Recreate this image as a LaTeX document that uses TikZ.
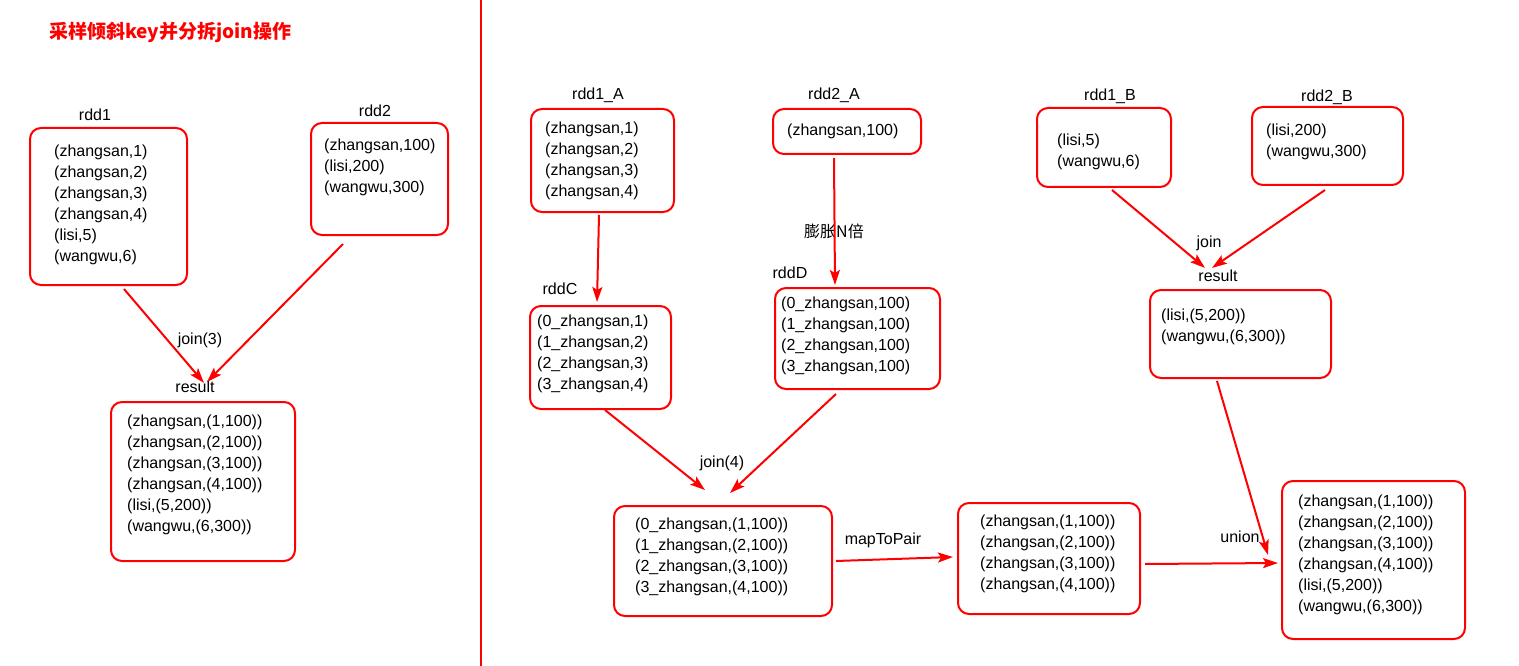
\documentclass[tikz,border=0pt]{standalone}
\usepackage{fontspec}
\setmainfont{Liberation Sans}
\newfontfamily\cjk{Noto Sans CJK SC}
\usetikzlibrary{arrows.meta}

\tikzset{
  rddbox/.style={draw=red, line width=2pt, rounded corners=11pt, inner sep=0pt},
  rddtext/.style={anchor=north west, align=left, inner sep=0pt, font=\fontsize{16}{21}\selectfont},
  rddname/.style={inner sep=1pt, font=\fontsize{16}{19}\selectfont},
  cjkname/.style={inner sep=1pt, font=\cjk\fontsize{16}{19}\selectfont},
  flow/.style={->, draw=red, line width=2pt},
}

\begin{document}
\begin{tikzpicture}[x=1pt, y=-1pt, line join=round, >={Stealth[length=15pt,width=10pt,inset=3pt]}]
\useasboundingbox (0,0) rectangle (1519,666);
% title and divider
\node[anchor=west, inner sep=0pt, text=red, font=\cjk\bfseries\fontsize{19}{22}\selectfont] (title) at (49,32) {采样倾斜key并分拆join操作};
\draw[red, line width=1.2pt] (481,0) -- (481,666);

% left: plain join
\node[rddname] (rdd1l) at (95,115) {rdd1};
\node[rddbox, minimum width=157pt, minimum height=157pt] (rdd1) at (108.5,206.5) {};
\node[rddtext] (rdd1t) at (54,145) {(zhangsan,1)\\(zhangsan,2)\\(zhangsan,3)\\(zhangsan,4)\\(lisi,5)\\(wangwu,6)};
\node[rddname] (rdd2l) at (375,111) {rdd2};
\node[rddbox, minimum width=137pt, minimum height=112pt] (rdd2) at (379.5,179) {};
\node[rddtext] (rdd2t) at (324,139) {(zhangsan,100)\\(lisi,200)\\(wangwu,300)};
\node[rddname] (join3) at (200,340) {join(3)};
\node[rddname] (resl) at (195,387) {result};
\node[rddbox, minimum width=184pt, minimum height=159pt] (res) at (203,481.5) {};
\node[rddtext] (rest) at (127,415) {(zhangsan,(1,100))\\(zhangsan,(2,100))\\(zhangsan,(3,100))\\(zhangsan,(4,100))\\(lisi,(5,200))\\(wangwu,(6,300))};
\draw[flow] ([shift={(15.5,3)}]rdd1.south) -- ([shift={(9,3)}]resl.north);
\draw[flow] ([shift={(-36.5,8)}]rdd2.south) -- ([shift={(12,2)}]resl.north);

% right: skewed key split
\node[rddname] (rdd1Al) at (598,95) {rdd1\_A};
\node[rddbox, minimum width=143pt, minimum height=103pt] (rdd1A) at (602.5,160.5) {};
\node[rddtext] (rdd1At) at (545,122) {(zhangsan,1)\\(zhangsan,2)\\(zhangsan,3)\\(zhangsan,4)};
\node[rddname] (rdd2Al) at (834,95) {rdd2\_A};
\node[rddbox, minimum width=148pt, minimum height=45pt] (rdd2A) at (847,131.5) {};
\node[rddtext] (rdd2At) at (787,124) {(zhangsan,100)};
\node[rddname] (rddCl) at (560,289) {rddC};
\node[rddbox, minimum width=141pt, minimum height=103pt] (rddC) at (600.5,357.5) {};
\node[rddtext] (rddCt) at (537,315) {(0\_zhangsan,1)\\(1\_zhangsan,2)\\(2\_zhangsan,3)\\(3\_zhangsan,4)};
\node[cjkname] (expand) at (834,231) {膨胀N倍};
\node[rddname] (rddDl) at (790,273) {rddD};
\node[rddbox, minimum width=165pt, minimum height=101pt] (rddD) at (857.5,338.5) {};
\node[rddtext] (rddDt) at (781,297) {(0\_zhangsan,100)\\(1\_zhangsan,100)\\(2\_zhangsan,100)\\(3\_zhangsan,100)};
\draw[flow] ([shift={(-3.5,2)}]rdd1A.south) -- ([shift={(-3.5,-3)}]rddC.north);
\draw[flow] ([shift={(-13,3)}]rdd2A.south) -- ([shift={(-22.5,-2)}]rddD.north);

\node[rddname] (join4) at (722,463) {join(4)};
\node[rddbox, minimum width=218pt, minimum height=110pt] (joinC) at (723,561) {};
\node[rddtext] (joinCt) at (635,518) {(0\_zhangsan,(1,100))\\(1\_zhangsan,(2,100))\\(2\_zhangsan,(3,100))\\(3\_zhangsan,(4,100))};
\draw[flow] ([shift={(4.5,0)}]rddC.south) -- ([shift={(-18,-15)}]joinC.north);
\draw[flow] ([shift={(-21.5,4)}]rddD.south) -- ([shift={(7,-12)}]joinC.north);

\node[rddname] (maplbl) at (883,540) {mapToPair};
\node[rddbox, minimum width=182pt, minimum height=111pt] (mapped) at (1049,558.5) {};
\node[rddtext] (mappedt) at (980,515) {(zhangsan,(1,100))\\(zhangsan,(2,100))\\(zhangsan,(3,100))\\(zhangsan,(4,100))};
\draw[flow] ([xshift=3]joinC.east) -- ([shift={(-4,-1.5)}]mapped.west);

\node[rddname] (rdd1Bl) at (1110,96) {rdd1\_B};
\node[rddbox, minimum width=134pt, minimum height=79pt] (rdd1B) at (1104,147.5) {};
\node[rddtext] (rdd1Bt) at (1057,134) {(lisi,5)\\(wangwu,6)};
\node[rddname] (rdd2Bl) at (1327,97) {rdd2\_B};
\node[rddbox, minimum width=151pt, minimum height=78pt] (rdd2B) at (1327.5,146) {};
\node[rddtext] (rdd2Bt) at (1266,124) {(lisi,200)\\(wangwu,300)};
\node[rddname] (joinB) at (1209,243) {join};
\node[rddname] (resBl) at (1218,276) {result};
\node[rddbox, minimum width=181pt, minimum height=88pt] (resB) at (1240.5,334) {};
\node[rddtext] (resBt) at (1161,309) {(lisi,(5,200))\\(wangwu,(6,300))};
\draw[flow] ([shift={(8,2)}]rdd1B.south) -- ([shift={(-13,-1)}]resBl.north);
\draw[flow] ([shift={(-2.5,4)}]rdd2B.south) -- ([shift={(-6,-1)}]resBl.north);

\node[rddname] (unionl) at (1240,537) {union};
\node[rddbox, minimum width=183pt, minimum height=158pt] (union) at (1373.5,560) {};
\node[rddtext] (uniont) at (1298,495) {(zhangsan,(1,100))\\(zhangsan,(2,100))\\(zhangsan,(3,100))\\(zhangsan,(4,100))\\(lisi,(5,200))\\(wangwu,(6,300))};
\draw[flow] ([shift={(4,5.5)}]mapped.east) -- ([shift={(-3,3)}]union.west);
\draw[flow] ([shift={(-23.5,2)}]resB.south) -- ([shift={(-13,-5)}]union.west);
\end{tikzpicture}
\end{document}
